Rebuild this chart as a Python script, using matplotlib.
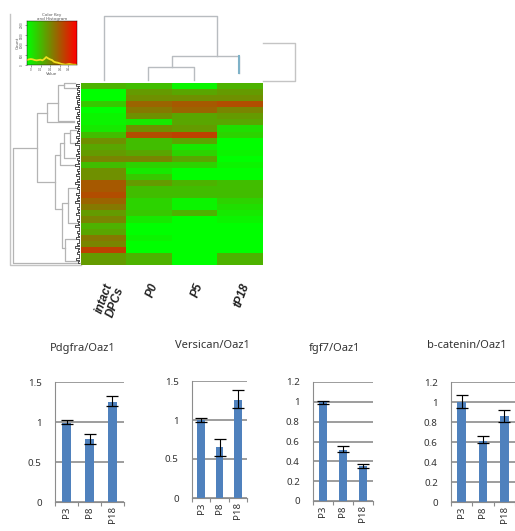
import numpy as np
import matplotlib
matplotlib.use("Agg")
import matplotlib.pyplot as plt
from matplotlib.colors import LinearSegmentedColormap

W, H = 515, 531

# heatmap columns, 0 = green, 1 = red
samples = ["intact\nDPCs", "P0", "P5", "tP18"]
intact = [.35, 0, 0, .25, 0, .05, .05, .1, .3, .5, .4, .45, .55, .3, .5,
          .5, .75, .75, .8, .7, .6, .45, .55, .35, .4, .6, .55, .85, .45, .45]
p0 = [.3, .45, .5, .7, .6, .5, .1, .5, .8, .3, .3, .4, .55, .2, .1,
      .25, .45, .3, .3, .2, .2, .25, .1, 0, 0, .05, 0, 0, .35, .35]
p5 = [.05, .4, .5, .75, .7, .4, .4, .45, .85, .4, .1, .2, .4, .2, 0,
      0, .35, .3, .3, .05, .05, .35, 0, 0, 0, 0, 0, 0, 0, 0]
tp18 = [.35, .45, .5, .8, .55, .45, .4, .15, .2, 0, 0, .05, 0, .05, 0,
        0, .3, .3, .3, .2, .15, .1, .05, 0, 0, 0, 0, 0, .35, .35]

# colour key histogram
hist_counts = [15, 17, 18, 17, 15, 14, 15, 16, 14, 18, 24, 20, 17, 15, 10,
               8, 7, 5, 3, 2, 1, 2, 3, 2, 1, 1, 0]
key_ticks_x = [0.08, 0.27, 0.46, 0.65, 0.82]
key_labels_x = ["0", "0.2", "0.4", "0.6", "0.8"]
key_ticks_y = [0, 30, 60, 90, 122]
key_labels_y = ["0", "500", "1000", "1500", "2000"]

# top dendrogram: merge height, left pos, right pos, left child height, right child height
top_merges = [(64, 0.5, 2.99, 0, 24),
              (24, 2.0, 3.47, 13, 7),
              (13, 1.47, 2.48, 0, 0)]

# side dendrogram: merge height, upper pos, lower pos, upper child height, lower child height
side_merges = [(67, 65, 180, 43, 0),
               (43, 30, 99, 33, 25),
               (33, 20, 39, 22, 6),
               (22, 2, 38, 16, 6),
               (16, 0, 5, 5, 3),
               (25, 72, 126, 20, 18),
               (20, 60, 82, 16, 6),
               (16, 50, 75, 10, 5),
               (10, 47, 60, 4, 3),
               (18, 120, 165, 12, 15),
               (12, 105, 140, 4, 3),
               (15, 156, 178, 5, 3)]
fine_pos = [1, 3, 5, 7, 9, 11, 13, 15, 17, 19, 22, 24, 27, 29, 31, 33, 36, 38, 41,
            43, 46, 48, 50, 53, 55, 58, 60, 63, 66, 68, 71, 73, 75, 78, 81, 83, 86,
            88, 91, 94, 96, 99, 102, 104, 107, 110, 112, 115, 118, 121, 124, 127,
            130, 133, 136, 139, 142, 145, 148, 151, 154, 157, 160, 163, 166, 169,
            172, 175, 178]
fine_h = [4, 2, 3, 1, 3, 2, 4, 1, 3, 3, 2, 5, 1, 3, 2, 4, 1, 3, 2,
          5, 2, 3, 1, 4, 2, 3, 5, 1, 3, 2, 4, 1, 3, 2, 5, 1, 3,
          2, 4, 1, 3, 5, 2, 3, 1, 4, 2, 3, 5, 1, 3, 2,
          4, 1, 3, 2, 5, 1, 3, 2, 4, 1, 3, 5, 2, 3,
          1, 4, 2]

# bar charts
bar_cats = ["P3", "P8", "P18"]
titles = ["Pdgfra/Oaz1", "Versican/Oaz1", "fgf7/Oaz1", "b-catenin/Oaz1"]
means = [[0.99, 0.79, 1.25], [1.0, 0.65, 1.26], [1.0, 0.51, 0.35], [1.0, 0.61, 0.86]]
err_low = [[0.97, 0.72, 1.20], [0.98, 0.54, 1.15], [0.98, 0.49, 0.33], [0.94, 0.59, 0.80]]
err_high = [[1.02, 0.85, 1.33], [1.02, 0.76, 1.38], [1.01, 0.55, 0.37], [1.07, 0.66, 0.92]]
y_tops = [1.5, 1.5, 1.2, 1.2]
y_steps = [0.5, 0.5, 0.2, 0.2]
y_labels = [["0", "0.5", "1", "1.5"], ["0", "0.5", "1", "1.5"],
            ["0", "0.2", "0.4", "0.6", "0.8", "1", "1.2"],
            ["0", "0.2", "0.4", "0.6", "0.8", "1", "1.2"]]


def add_ax(x0, y0, x1, y1):
    # box in picture pixels, y going down
    return fig.add_axes([x0 / W, 1 - y1 / H, (x1 - x0) / W, (y1 - y0) / H])


fig = plt.figure(figsize=(W / 100, H / 100), dpi=100)
grey = "#c4c4c4"
red_green = LinearSegmentedColormap.from_list("rg", ["#00ff00", "#ff0000"])

# frame lines round the heatmap figure
frame = add_ax(0, 0, W, H)
frame.set_xlim(0, W)
frame.set_ylim(H, 0)
frame.axis("off")
frame.plot([10, 10, 81], [14, 265, 265], color=grey, lw=1)
frame.plot([263, 295, 295, 263], [43, 43, 81, 81], color=grey, lw=1)

# heatmap
ax = add_ax(81, 83, 263, 265)
ax.imshow(np.array([intact, p0, p5, tp18]).T, cmap=red_green, vmin=0, vmax=1.15,
          aspect="auto", interpolation="nearest")
ax.set_yticks([])
ax.set_xticks(range(4))
ax.set_xticklabels(samples, rotation=70, ha="right", rotation_mode="anchor",
                   fontsize=8.5, fontweight="bold", style="italic",
                   family="Liberation Sans", color="#222222", linespacing=1.0)
ax.tick_params(axis="x", length=0, pad=12)
for s in ax.spines.values():
    s.set_visible(False)

# top dendrogram
ax = add_ax(81, 16, 263, 80)
ax.set_xlim(0, 4)
ax.set_ylim(0, 64)
ax.axis("off")
for h, a, b, ha, hb in top_merges:
    ax.plot([a, a, b, b], [ha, h, h, hb], color="#b8bcc0", lw=1, clip_on=False)
ax.plot([3.47, 3.47], [7, 24], color="#7fb2c8", lw=1.5)

# side dendrogram
ax = add_ax(12, 83, 80, 264)
ax.set_xlim(68, 0)
ax.set_ylim(181, 0)
ax.axis("off")
for h, a, b, ha, hb in side_merges:
    ax.plot([ha, h, h, hb], [a, a, b, b], color="#b4b4b4", lw=0.9, clip_on=False)
for p, h in zip(fine_pos, fine_h):
    ax.plot([0, h, h, 0], [p, p, p + 1.5, p + 1.5], color="#333333", lw=0.6)

# colour key
ax = add_ax(27, 21, 77, 65)
ax.imshow(np.linspace(0, 1, 200).reshape(1, -1), cmap=red_green, aspect="auto",
          extent=(0, 1, 0, 133))
ax.plot(np.linspace(0, 1, len(hist_counts)), hist_counts, color="#f0e020", lw=1.3)
ax.set_xticks(key_ticks_x)
ax.set_xticklabels(key_labels_x)
ax.set_yticks(key_ticks_y)
ax.set_yticklabels(key_labels_y, rotation=90, va="center")
ax.tick_params(labelsize=2, length=1.2, width=0.4, pad=0.8, colors="#555555")
ax.set_xlabel("Value", fontsize=3, labelpad=0.5, color="#555555")
ax.set_ylabel("Count", fontsize=3, labelpad=0.5, color="#555555")
ax.set_title("Color Key\nand Histogram", fontsize=3, pad=0.5, color="#555555", linespacing=1.0)
for s in ax.spines.values():
    s.set_linewidth(0.3)

# bar charts
boxes = [(55, 382, 124, 502), (192, 381, 247, 498), (313, 382, 373, 501), (451, 382, 515, 502)]
title_xy = [(83, 349), (212, 346), (334, 348), (467, 346)]
for i, box in enumerate(boxes):
    ax = add_ax(*box)
    x = np.arange(3)
    m = np.array(means[i])
    yerr = [m - np.array(err_low[i]), np.array(err_high[i]) - m]
    ax.set_axisbelow(True)
    ax.grid(axis="y", color="#8c8c8c", lw=1.2)
    ax.bar(x, m, width=0.42, color="#4f81bd", zorder=2)
    ax.errorbar(x, m, yerr=yerr, fmt="none", ecolor="black", elinewidth=0.8,
                capsize=4.3, capthick=0.9, zorder=3)
    ax.set_xlim(-0.5, 2.5)
    ax.set_ylim(0, y_tops[i])
    ax.set_yticks(np.arange(len(y_labels[i])) * y_steps[i])
    ax.set_yticklabels(y_labels[i], fontsize=7, family="Noto Sans", color="#333333")
    ax.set_xticks([-0.5, 0.5, 1.5, 2.5])
    ax.set_xticklabels([])
    ax.set_xticks(x, bar_cats, minor=True, rotation=90, fontsize=7,
                  family="Noto Sans", color="#333333")
    ax.tick_params(axis="x", which="minor", length=0, pad=3)
    ax.tick_params(axis="x", which="major", length=3, color="#8c8c8c")
    ax.tick_params(axis="y", length=0, pad=9.5)
    for name in ["top", "right"]:
        ax.spines[name].set_visible(False)
    for name in ["left", "bottom"]:
        ax.spines[name].set_color("#8c8c8c")
    frame.text(title_xy[i][0], title_xy[i][1], titles[i], fontsize=8, family="Noto Sans",
               fontweight="medium", ha="center", va="center", color="#333333")

fig.savefig("out.png", dpi=100)
